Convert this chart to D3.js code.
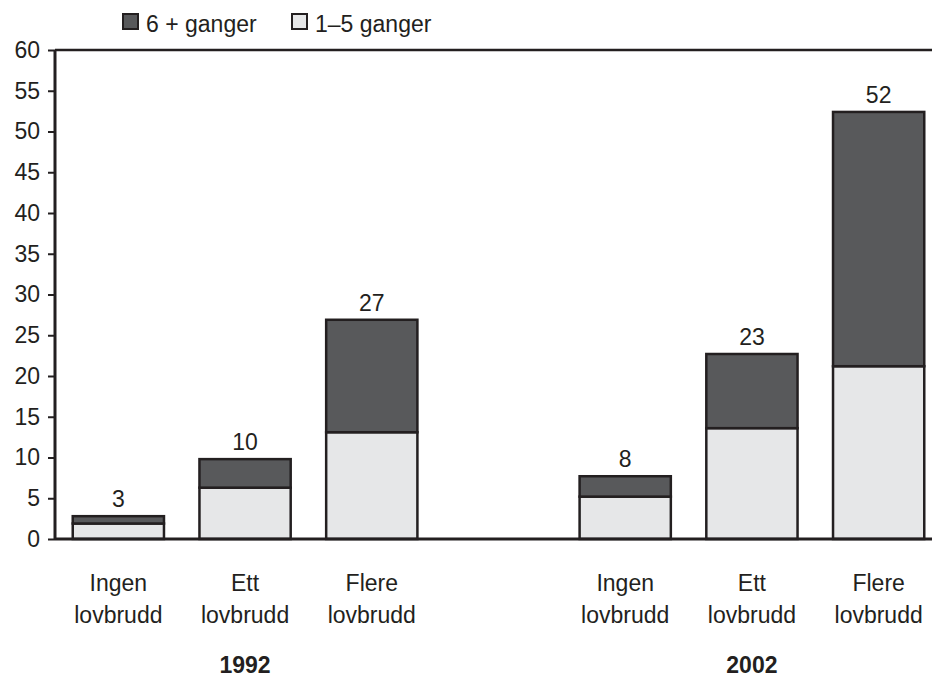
<!DOCTYPE html>
<html>
<head>
<meta charset="utf-8">
<script src="https://cdn.jsdelivr.net/npm/d3@7"></script>
<style>
  body { margin: 0; background: #fff; }
  svg { font-family: "Liberation Sans", Arial, sans-serif; }
</style>
</head>
<body>
<div id="chart"></div>
<script>
// data
const years = ["1992", "2002"]
const categories = ["Ingen lovbrudd", "Ett lovbrudd", "Flere lovbrudd"]
const seriesNames = ["1–5 ganger", "6 + ganger"]
const low1992 = [1.9, 6.3, 13.1]
const high1992 = [0.9, 3.5, 13.8]
const low2002 = [5.2, 13.6, 21.2]
const high2002 = [2.5, 9.1, 31.2]
const totalLabels = ["3", "10", "27", "8", "23", "52"]
const yTicks = d3.range(0, 61, 5)

const width = 932, height = 678
const margin = { top: 50, left: 55, bottom: 139 }
const colors = { "1–5 ganger": "#e6e7e8", "6 + ganger": "#58595b" }
const ink = "#231f20"
const fontSize = 23

// one slot between the two year groups stays empty
const slots = ["1992-0", "1992-1", "1992-2", "gap", "2002-0", "2002-1", "2002-2"]

const rows = []
years.forEach((yr, yi) => {
  const low = yi == 0 ? low1992 : low2002
  const high = yi == 0 ? high1992 : high2002
  categories.forEach((c, ci) => {
    rows.push({ key: yr + "-" + ci, year: yr, cat: c, "1–5 ganger": low[ci], "6 + ganger": high[ci], label: totalLabels[yi * 3 + ci] })
  })
})

const svg = d3.select("#chart").append("svg")
  .attr("width", width)
  .attr("height", height)

const x = d3.scaleBand()
  .domain(slots)
  .range([margin.left, 942])
  .paddingInner(0.28)
  .paddingOuter(0.14)

const y = d3.scaleLinear()
  .domain([0, 60])
  .range([height - margin.bottom, margin.top])

const stack = d3.stack().keys(seriesNames)
const stacked = stack(rows)

//bars
stacked.forEach(layer => {
  svg.append("g").selectAll("rect")
    .data(layer)
    .join("rect")
    .attr("x", d => x(d.data.key))
    .attr("width", x.bandwidth())
    .attr("y", d => y(d[1]))
    .attr("height", d => y(d[0]) - y(d[1]))
    .attr("fill", colors[layer.key])
    .attr("stroke", ink)
    .attr("stroke-width", 2.5)
})

//totals above bars
svg.append("g").selectAll("text")
  .data(rows)
  .join("text")
  .attr("x", d => x(d.key) + x.bandwidth() / 2)
  .attr("y", d => y(d["1–5 ganger"] + d["6 + ganger"]) - 9)
  .attr("text-anchor", "middle")
  .attr("font-size", fontSize)
  .attr("fill", ink)
  .text(d => d.label)

//y axis
const yAxis = d3.axisLeft(y).tickValues(yTicks).tickSize(7).tickPadding(8)
const yg = svg.append("g")
  .attr("transform", "translate(" + margin.left + ",0)")
  .call(yAxis)
yg.select(".domain").remove()
yg.selectAll("line").attr("stroke", ink).attr("stroke-width", 2)
yg.selectAll("text").attr("font-size", fontSize).attr("fill", ink)
  .attr("font-family", "Liberation Sans, Arial, sans-serif")

svg.append("line").attr("x1", margin.left).attr("x2", margin.left)
  .attr("y1", y(60)).attr("y2", y(0)).attr("stroke", ink).attr("stroke-width", 3)
//top and bottom lines across the plot
svg.append("line").attr("x1", margin.left).attr("x2", width)
  .attr("y1", y(60)).attr("y2", y(60)).attr("stroke", ink).attr("stroke-width", 2.5)
svg.append("line").attr("x1", margin.left).attr("x2", width)
  .attr("y1", y(0)).attr("y2", y(0)).attr("stroke", ink).attr("stroke-width", 3)

//category labels, two lines
const catG = svg.append("g").selectAll("text")
  .data(rows)
  .join("text")
  .attr("text-anchor", "middle")
  .attr("font-size", fontSize)
  .attr("fill", ink)
catG.each(function(d) {
  const words = d.cat.split(" ")
  const cx = x(d.key) + x.bandwidth() / 2
  d3.select(this).selectAll("tspan")
    .data(words)
    .join("tspan")
    .attr("x", cx)
    .attr("y", (w, i) => 591 + i * 32)
    .text(w => w)
})

//year labels under the middle bar of each group
svg.append("g").selectAll("text")
  .data(years)
  .join("text")
  .attr("x", yr => x(yr + "-1") + x.bandwidth() / 2)
  .attr("y", 673)
  .attr("text-anchor", "middle")
  .attr("font-size", 23)
  .attr("font-weight", "bold")
  .attr("fill", ink)
  .text(yr => yr)

//legend
const legendItems = [
  { name: "6 + ganger", x: 123 },
  { name: "1–5 ganger", x: 292 }
]
const lg = svg.append("g").selectAll("g")
  .data(legendItems)
  .join("g")
  .attr("transform", d => "translate(" + d.x + ",14)")
lg.append("rect")
  .attr("width", 15).attr("height", 15)
  .attr("fill", d => colors[d.name])
  .attr("stroke", ink).attr("stroke-width", 2)
lg.append("text")
  .attr("x", 23).attr("y", 18)
  .attr("font-size", fontSize)
  .attr("fill", ink)
  .text(d => d.name)
</script>
</body>
</html>
